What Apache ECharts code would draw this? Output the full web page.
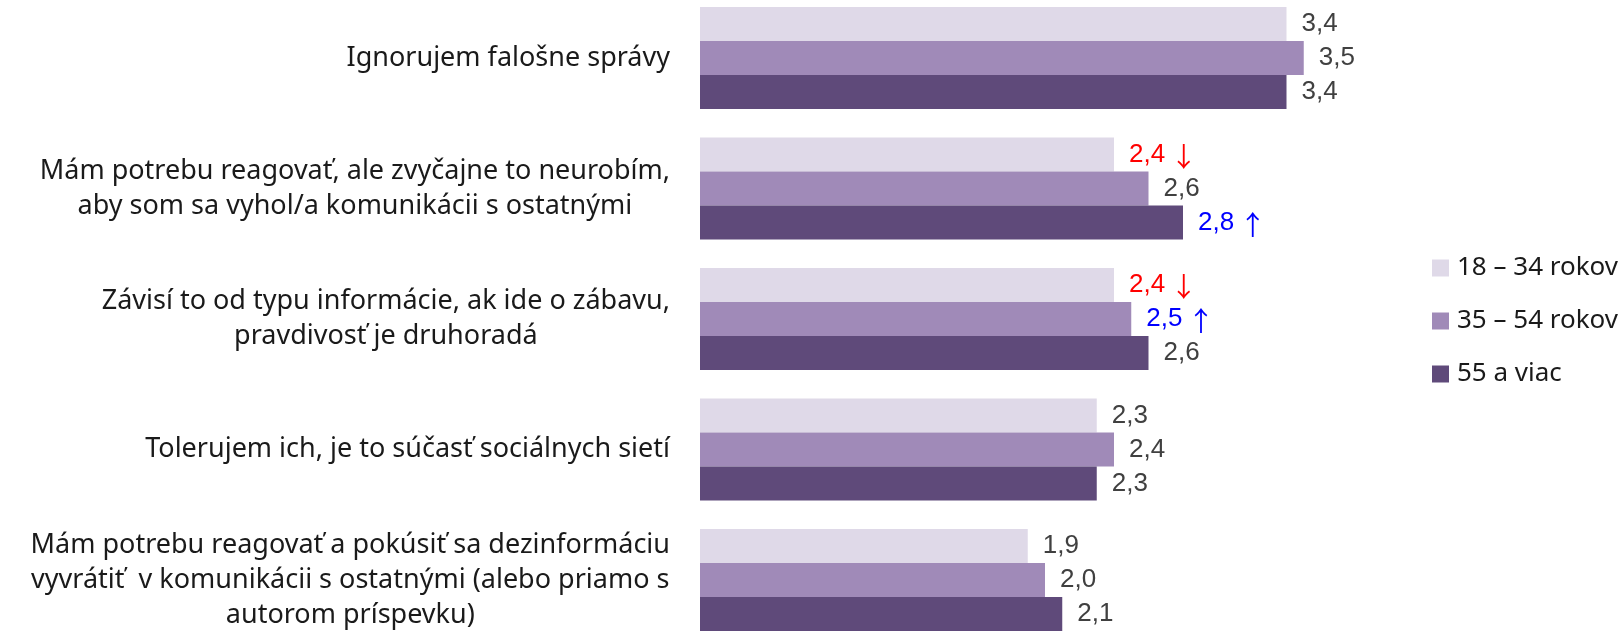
<!DOCTYPE html>
<html>
<head>
<meta charset="utf-8">
<script src="https://cdn.jsdelivr.net/npm/echarts@6/dist/echarts.min.js"></script>
<style>
  html, body { margin: 0; padding: 0; background: #ffffff; }
  #chart { width: 1624px; height: 634px; }
</style>
</head>
<body>
<div id="chart"></div>
<script>
// Statements about handling fake news, average score per age group
const categories = [
  'Ignorujem falošne správy',
  'Mám potrebu reagovať, ale zvyčajne to neurobím,\naby som sa vyhol/a komunikácii s ostatnými',
  'Závisí to od typu informácie, ak ide o zábavu,\npravdivosť je druhoradá',
  'Tolerujem ich, je to súčasť sociálnych sietí',
  'Mám potrebu reagovať a pokúsiť sa dezinformáciu\nvyvrátiť  v komunikácii s ostatnými (alebo priamo s\nautorom príspevku)'
];

const seriesNames = ['18 – 34 rokov', '35 – 54 rokov', '55 a viac'];

const age18to34 = [3.4, 2.4, 2.4, 2.3, 1.9];
const age35to54 = [3.5, 2.6, 2.5, 2.4, 2.0];
const age55plus = [3.4, 2.8, 2.6, 2.3, 2.1];

// significant differences: 'down' = lower, 'up' = higher
const trend18to34 = [null, 'down', 'down', null, null];
const trend35to54 = [null, null, 'up', null, null];
const trend55plus = [null, 'up', null, null, null];

const colors = ['#DFD9E8', '#A08AB8', '#5F4A7A'];

const textFont = 'Noto Sans, Lato, sans-serif';
const numFont = 'Liberation Sans, Arial, sans-serif';

function fmt(v) {
  return v.toFixed(1).replace('.', ',');
}

function labelFormatter(trend) {
  return function (p) {
    const t = trend[p.dataIndex];
    if (t === 'down') return '{down|' + fmt(p.value) + '}{downArrow|↓}';
    if (t === 'up') return '{up|' + fmt(p.value) + '}{upArrow|↑}';
    return '{n|' + fmt(p.value) + '}';
  };
}

const arrowStyle = { fontFamily: 'Noto Sans CJK SC', fontSize: 27, padding: [4, 0, 0, 5] };

const labelRich = {
  n: { color: '#404040', fontFamily: numFont, fontSize: 26 },
  down: { color: '#FF0000', fontFamily: numFont, fontSize: 26 },
  up: { color: '#0000FF', fontFamily: numFont, fontSize: 26 },
  downArrow: Object.assign({ color: '#FF0000' }, arrowStyle),
  upArrow: Object.assign({ color: '#0000FF' }, arrowStyle)
};

function makeSeries(name, data, trend, color) {
  return {
    name: name,
    type: 'bar',
    data: data,
    barWidth: 34,
    barGap: '0%',
    itemStyle: { color: color },
    label: {
      show: true,
      position: 'right',
      distance: 15,
      formatter: labelFormatter(trend),
      rich: labelRich
    },
    emphasis: { disabled: true }
  };
}

const chart = echarts.init(document.getElementById('chart'), null, { renderer: 'canvas' });

chart.setOption({
  animation: false,
  backgroundColor: '#ffffff',
  // categories sit on the ticks; first and last group centres at the grid edges
  grid: { left: 700, right: 234, top: 58, bottom: 54, containLabel: false },
  xAxis: {
    type: 'value',
    min: 0,
    max: 4,
    show: false
  },
  yAxis: {
    type: 'category',
    data: categories,
    inverse: true,
    boundaryGap: false,
    axisLine: { show: false },
    axisTick: { show: false },
    splitLine: { show: false },
    axisLabel: {
      margin: 30,
      align: 'right',
      formatter: function (value) {
        return value.split('\n').map(function (l) { return '{c|' + l + '}'; }).join('\n');
      },
      rich: {
        c: {
          align: 'center',
          fontFamily: textFont,
          fontSize: 27,
          lineHeight: 35,
          color: '#1a1a1a'
        }
      }
    }
  },
  legend: {
    orient: 'vertical',
    left: 1432,
    top: 255,
    padding: 0,
    itemWidth: 17,
    itemHeight: 17,
    itemGap: 27,
    icon: 'rect',
    data: seriesNames,
    selectedMode: false,
    textStyle: {
      fontFamily: textFont,
      fontSize: 26,
      lineHeight: 25,
      color: '#1a1a1a',
      padding: [0, 0, 0, 3]
    }
  },
  series: [
    makeSeries(seriesNames[0], age18to34, trend18to34, colors[0]),
    makeSeries(seriesNames[1], age35to54, trend35to54, colors[1]),
    makeSeries(seriesNames[2], age55plus, trend55plus, colors[2])
  ]
});
</script>
</body>
</html>
